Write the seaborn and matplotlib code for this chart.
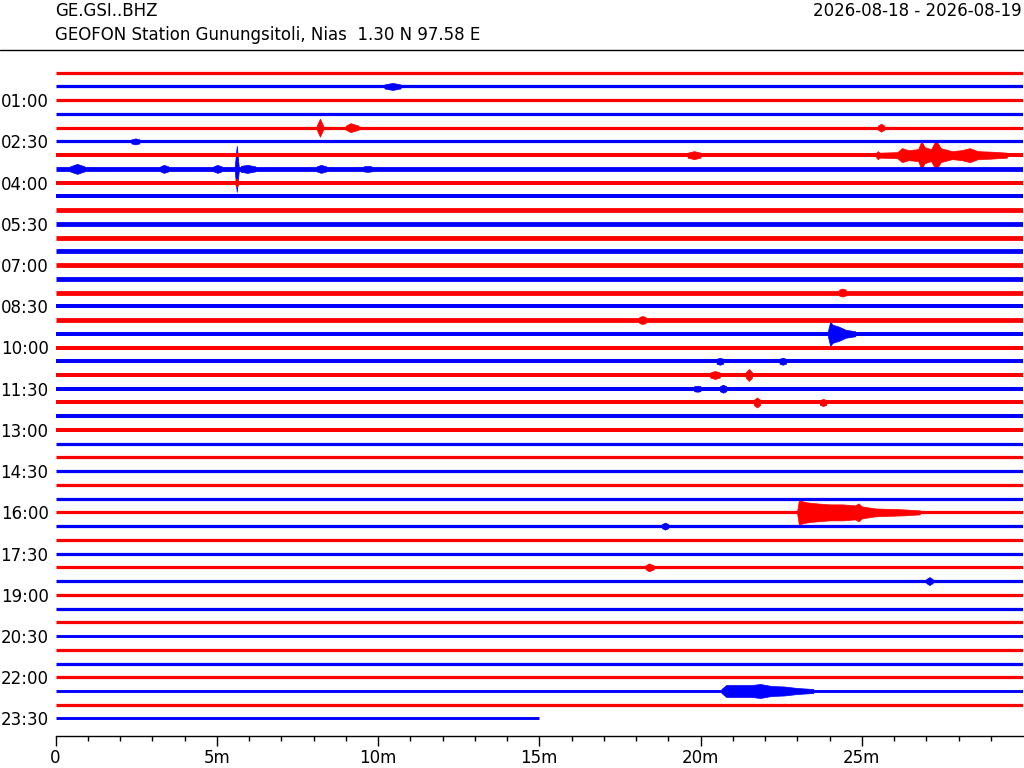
import numpy as np
import pandas as pd
import matplotlib
matplotlib.use("Agg")
import matplotlib.pyplot as plt
from matplotlib.lines import Line2D
from matplotlib.ticker import FixedLocator, FuncFormatter
import seaborn as sns

# header texts
station = "GE.GSI..BHZ"
station_info = "GEOFON Station Gunungsitoli, Nias  1.30 N 97.58 E"
date_range = "2026-08-18 - 2026-08-19"

# 48 half-hour lines, length in minutes (last line is cut at 15m)
line_length = [30] * 47 + [15]

# background noise half-width of every line (in pixels)
noise = [2.0, 2.0, 2.0, 2.0, 2.0, 2.0, 2.5, 3.0, 2.5, 2.5,
         3.0, 3.0, 3.0, 3.0, 3.0, 3.0, 3.0, 2.5, 3.0, 2.5,
         2.5, 2.5, 2.5, 2.5, 2.5, 2.5, 2.5, 2.0, 2.0, 2.0,
         2.0, 2.0, 2.0, 2.0, 2.0, 2.0, 2.0, 2.0, 2.0, 2.0,
         2.0, 1.8, 2.0, 2.0, 2.0, 1.8, 2.0, 1.8]

ytick_labels = ["01:00", "02:30", "04:00", "05:30", "07:00", "08:30",
                "10:00", "11:30", "13:00", "14:30", "16:00", "17:30",
                "19:00", "20:30", "22:00", "23:30"]

# x ticks: labelled every 5 minutes, small ticks every minute
major_minutes = [0, 5, 10, 15, 20, 25]
minor_minutes = [m for m in range(1, 30) if m % 5 != 0]

# events: (line, minutes, half-width in pixels)
events = [
    (1, [10.2, 10.45, 10.7], [2, 3.5, 2]),
    (4, [8.1, 8.2, 8.3], [2, 9, 2]),
    (4, [9.0, 9.15, 9.4], [2, 4.5, 2]),
    (4, [25.5, 25.6, 25.7], [2, 4, 2]),
    (5, [2.35, 2.48, 2.6], [2, 3, 2]),
    (6, [19.6, 19.8, 20.0], [2.5, 4, 2.5]),
    (6, [25.45, 25.5, 25.55, 26.1, 26.25, 26.45, 26.75, 26.85, 26.95,
         27.15, 27.3, 27.45, 27.8, 28.1, 28.35, 28.6, 29.0, 29.5],
        [2.5, 4, 2.5, 3, 7, 5, 6, 14, 8, 6, 15, 7, 4, 5, 7, 4, 3.5, 2.5]),
    (7, [0.45, 0.67, 0.9], [2.5, 5, 2.5]),
    (7, [3.25, 3.36, 3.5], [2.5, 4, 2.5]),
    (7, [4.9, 5.02, 5.15], [2.5, 4, 2.5]),
    (7, [5.56, 5.62, 5.68], [3, 23, 3]),
    (7, [5.75, 5.95, 6.2], [3, 4, 2.5]),
    (7, [8.1, 8.23, 8.4], [2.5, 4, 2.5]),
    (7, [9.55, 9.68, 9.8], [2.5, 3, 2.5]),
    (8, [5.58, 5.62, 5.66], [2.5, 4, 2.5]),
    (16, [24.3, 24.4, 24.5], [3, 4, 3]),
    (18, [18.1, 18.2, 18.3], [3, 4, 3]),
    (19, [23.95, 24.02, 24.1, 24.3, 24.5, 24.8], [2.5, 12, 9, 7, 4, 2.5]),
    (21, [20.5, 20.6, 20.7], [2.5, 3.5, 2.5]),
    (21, [22.45, 22.55, 22.65], [2.5, 3.5, 2.5]),
    (22, [20.3, 20.45, 20.6], [2.5, 4, 2.5]),
    (22, [21.4, 21.5, 21.6], [2.5, 6, 2.5]),
    (23, [19.8, 19.9, 20.0], [2.5, 3, 2.5]),
    (23, [20.6, 20.7, 20.8], [2.5, 4, 2.5]),
    (24, [21.65, 21.75, 21.85], [2.5, 5, 2.5]),
    (24, [23.7, 23.8, 23.9], [2.5, 3.5, 2.5]),
    (32, [23.0, 23.05, 23.3, 23.6, 24.0, 24.4, 24.8, 24.9, 25.0, 25.4,
          25.8, 26.3, 26.8], [2, 12, 10, 9, 8, 8, 7, 9, 6, 4, 3.5, 3, 2]),
    (33, [18.8, 18.9, 19.0], [2, 3.5, 2]),
    (36, [18.3, 18.4, 18.55], [2, 4, 2]),
    (37, [27.0, 27.1, 27.2], [2, 4, 2]),
    (45, [20.65, 20.8, 21.2, 21.6, 21.85, 22.2, 22.6, 23.0, 23.5],
         [2, 6, 6, 6, 7, 5, 4.5, 3, 2]),
]

colors = {"red": "#ff0000", "blue": "#0000ff"}
PX_PER_LINE = 13.74
BAND = 0.8  # drawn share of the noise half-width (trace is a fuzzy wiggle)

sns.set_theme(style="white", rc={"axes.edgecolor": "black",
                                 "xtick.color": "black",
                                 "ytick.color": "black",
                                 "text.color": "black"})
plt.rcParams["font.family"] = ["DejaVu Sans"]

rows = []
for i, length in enumerate(line_length):
    c = "red" if i % 2 == 0 else "blue"
    for m in (0, length):
        rows.append({"minute": m, "line": i, "color": c, "noise": noise[i]})
df = pd.DataFrame(rows)

fig = plt.figure(figsize=(10.24, 7.68), dpi=100)
ax = fig.add_axes([55.5 / 1024, 32.5 / 768, 967.5 / 1024, 680.5 / 768])

# noise band of each line, width in points
sns.lineplot(data=df, x="minute", y="line", units="line", estimator=None,
             hue="color", palette=colors, size="noise",
             sizes={v: 2 * v * BAND * 0.72 for v in set(noise)},
             sort=False, legend=False, ax=ax, solid_capstyle="butt")

for line, t, amp in events:
    c = colors["red"] if line % 2 == 0 else colors["blue"]
    a = np.array(amp) / PX_PER_LINE
    ax.fill_between(t, line - a, line + a, color=c, lw=0.5)

ax.set_xlim(0, 30)
ax.set_ylim((735.5 - 72.7) / PX_PER_LINE, (55 - 72.7) / PX_PER_LINE)

ytick_pos = [(int(s[:2]) * 60 + int(s[3:])) / 30 for s in ytick_labels]
ax.set_yticks(ytick_pos)
ax.set_yticklabels(ytick_labels)
ax.xaxis.set_major_locator(FixedLocator(major_minutes))
ax.xaxis.set_minor_locator(FixedLocator(minor_minutes))
ax.xaxis.set_major_formatter(FuncFormatter(lambda v, p: "0" if v == 0 else f"{int(v)}m"))
ax.tick_params(axis="x", which="major", bottom=True, length=7, width=1,
               direction="out", labelsize=12, pad=3)
ax.tick_params(axis="x", which="minor", bottom=True, length=3.5, width=1,
               direction="out")
ax.tick_params(axis="y", length=0, labelsize=12, pad=5)
ax.set_xlabel("")
ax.set_ylabel("")
sns.despine(ax=ax, left=True)
ax.spines["bottom"].set_linewidth(1)

fig.text(55 / 1024, 1 - 11 / 768, station, fontsize=12, ha="left", va="center")
fig.text(55 / 1024, 1 - 35 / 768, station_info, fontsize=12, ha="left", va="center")
fig.text(1022 / 1024, 1 - 11 / 768, date_range, fontsize=12, ha="right", va="center")
fig.add_artist(Line2D([0, 1], [1 - 50 / 768, 1 - 50 / 768],
                      transform=fig.transFigure, color="black", lw=1))

fig.savefig("out.png", dpi=100)
